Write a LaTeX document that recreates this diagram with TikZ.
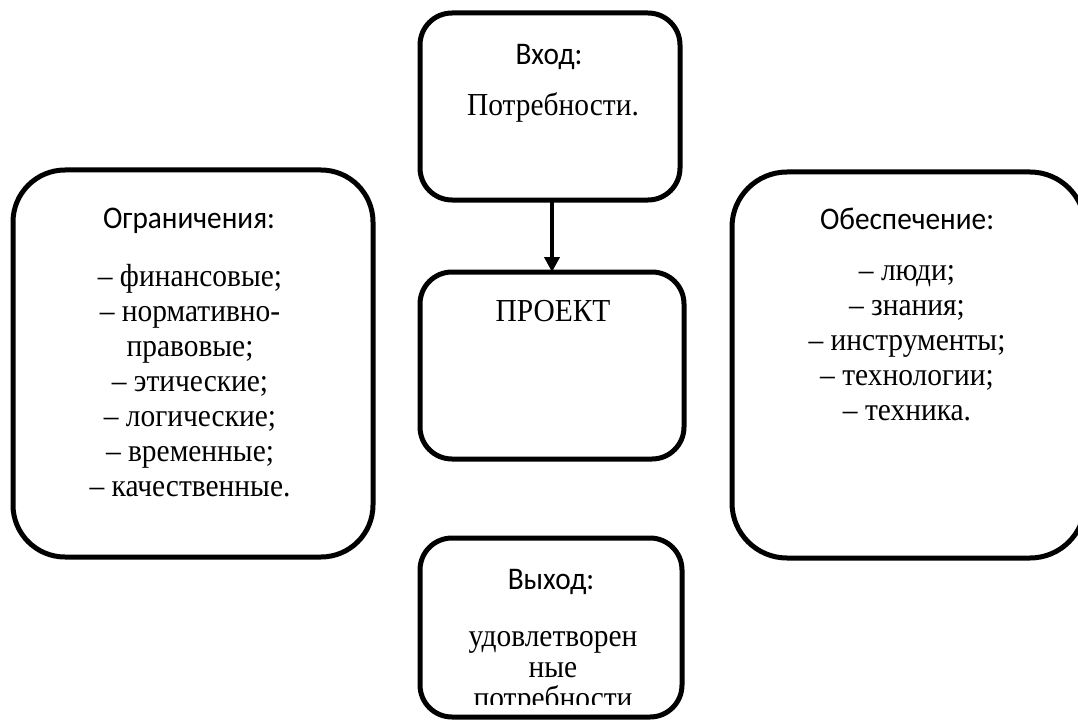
\documentclass[tikz,border=0pt]{standalone}
\usepackage{fontspec}
\setmainfont{Liberation Serif}[FakeStretch=0.92]
\newfontfamily\headfont{Carlito}[FakeStretch=0.93]
\usetikzlibrary{arrows.meta}
\tikzset{
  box/.style={draw=black, line width=5pt, inner sep=0pt, outer sep=0pt, fill=none},
  smallbox/.style={box, rounded corners=32pt},
  bigbox/.style={box, rounded corners=52pt},
  head/.style={inner sep=0pt, anchor=base, font=\headfont\fontsize{31.5}{35}\selectfont},
  item/.style={inner sep=0pt, anchor=base, font=\fontsize{32}{35}\selectfont},
  flow/.style={line width=4pt, -{Triangle[width=15pt,length=15pt]}}
}
\begin{document}
\begin{tikzpicture}[x=1pt,y=-1pt]
\useasboundingbox (0,0) rectangle (1078,722);
\clip (0,0) rectangle (1078,722);
% boxes
\node[smallbox, minimum width=260pt, minimum height=187pt] (in) at (550,106.5) {};
\node[smallbox, minimum width=264pt, minimum height=187pt] (proj) at (552,365.5) {};
\node[smallbox, minimum width=262pt, minimum height=179pt] (out) at (551,627.5) {};
\node[bigbox, minimum width=360pt, minimum height=387pt] (lim) at (193,363.5) {};
\node[bigbox, minimum width=353pt, minimum height=386pt, rounded corners=55pt] (res) at (908.5,365) {};
% arrow
\draw[flow] (in.south -| 552,0) -- (proj.north -| 552,0);
% top box
\node[head] (inh) at (549,65) {Вход:};
\node[item] (int) at (553,116) {Потребности.};
% project
\node[item] (projt) at (553,321) {ПРОЕКТ};
% left box
\node[head] (limh) at (189,228) {Ограничения:};
\node[item] (l1) at (190,286) {– финансовые;};
\node[item] (l2) at (190,321) {– нормативно-};
\node[item] (l3) at (190,356) {правовые;};
\node[item] (l4) at (190,391) {– этические;};
\node[item] (l5) at (190,426) {– логические;};
\node[item] (l6) at (190,461) {– временные;};
\node[item] (l7) at (190,496) {– качественные.};
% right box
\node[head] (resh) at (907,229) {Обеспечение:};
\node[item] (r1) at (907,280) {– люди;};
\node[item] (r2) at (907,315) {– знания;};
\node[item] (r3) at (907,350) {– инструменты;};
\node[item] (r4) at (907,385) {– технологии;};
\node[item] (r5) at (907,420) {– техника.};
% bottom box
\begin{scope}
\clip (420,540) rectangle (682,704);
\node[head] (outh) at (551,589) {Выход:};
\node[item] (o1) at (553,646) {удовлетворен};
\node[item] (o2) at (553,677) {ные};
\node[item] (o3) at (553,708) {потребности};
\end{scope}
\end{tikzpicture}
\end{document}
